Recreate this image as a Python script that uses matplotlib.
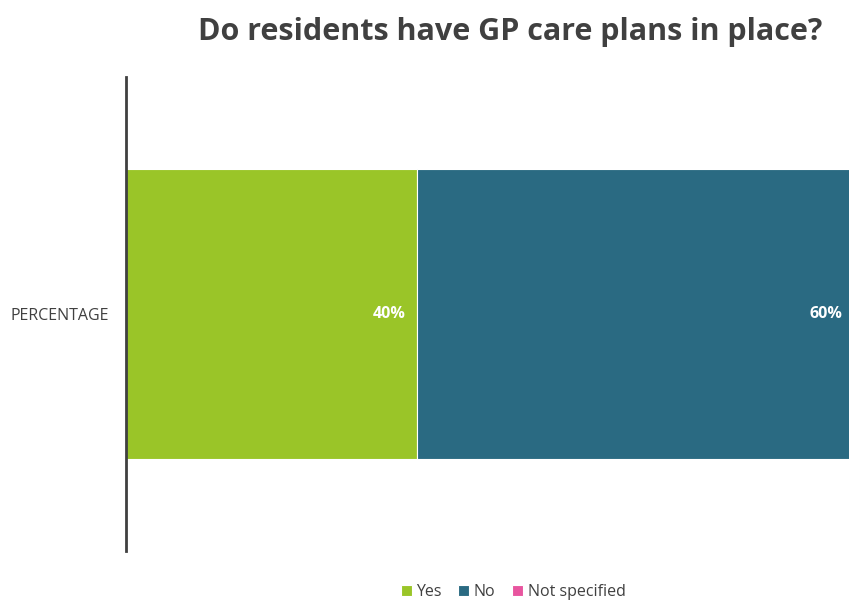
import matplotlib.pyplot as plt

# Data
category = ["PERCENTAGE"]
series = ["Yes", "No", "Not specified"]
values = [40, 60, 0]
colors = ["#9AC528", "#2A6A82", "#E8559F"]

plt.rcParams['font.family'] = ['Open Sans', 'DejaVu Sans']

fig = plt.figure(figsize=(8.49, 6.03), dpi=100)
ax = fig.add_axes([126 / 849, 1 - 551 / 603, 727 / 849, 474 / 603])

left = 0
handles = []
for name, val, col in zip(series, values, colors):
    b = ax.barh(category, val, left=left, color=col, height=0.61,
                edgecolor="white", linewidth=0.8, label=name)
    handles.append(b)
    if val > 0:
        ax.annotate(f"{val}%", xy=(left + val, 0), xytext=(-8, 0),
                    textcoords="offset points", ha="right", va="center",
                    color="white", fontsize=11.5, fontweight="bold")
    left += val

ax.set_xlim(0, 100)
ax.set_ylim(-0.5, 0.5)
ax.set_xticks([])
for s in ["top", "right", "bottom"]:
    ax.spines[s].set_visible(False)
ax.spines["left"].set_color("#404040")
ax.spines["left"].set_linewidth(2)
ax.tick_params(axis="y", length=0, pad=12, labelsize=11.5, labelcolor="#404040")

fig.text(822 / 849, 1 - 32 / 603, "Do residents have GP care plans in place?",
         ha="right", va="center", fontsize=22, fontweight="bold", color="#404040")

fig.legend(handles=handles, loc="center", bbox_to_anchor=(513 / 849, 1 - 592 / 603),
           ncol=3, frameon=False, fontsize=11.5, handlelength=0.7, handleheight=0.7,
           handletextpad=0.3, columnspacing=1.0, labelcolor="#404040")

plt.savefig("out.png", dpi=100)
